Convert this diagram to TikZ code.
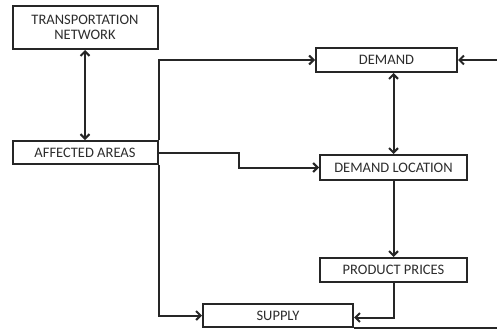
\documentclass[tikz,border=0pt]{standalone}
\usepackage{fontspec}
\setmainfont{Carlito}
\usepackage{tikz}
\usepackage{xcolor}
\usetikzlibrary{arrows.meta}
\definecolor{ink}{RGB}{38,38,38}
\definecolor{txt}{RGB}{45,45,45}

\begin{document}
\begin{tikzpicture}[x=1pt, y=-1pt, >={Straight Barb[length=4.5pt,width=9pt]},
    box/.style={draw=ink, line width=2pt, fill=white, text=txt, inner sep=0pt,
                align=center, font=\fontsize{14.5}{15}\selectfont},
    link/.style={draw=ink, line width=2pt}]
    \useasboundingbox (0,0) rectangle (497,329);
    \clip (0,0) rectangle (497,329);

    % Boxes
    \node[box, minimum width=145pt, minimum height=43pt] (trans) at (85,27.5) {TRANSPORTATION\\NETWORK};
    \node[box, minimum width=145pt, minimum height=23pt] (areas) at (85,152.5) {AFFECTED AREAS};
    \node[box, minimum width=141pt, minimum height=24pt] (demand) at (386.5,60) {DEMAND};
    \node[box, minimum width=147pt, minimum height=25pt] (dloc) at (393.5,167.5) {DEMAND LOCATION};
    \node[box, minimum width=147pt, minimum height=24pt] (prices) at (393.5,270) {PRODUCT PRICES};
    \node[box, minimum width=150pt, minimum height=23pt] (supply) at (278,315.5) {SUPPLY};

    % Links from the affected areas
    \draw[link, <->] (trans.south) -- (areas.north);
    \draw[link, ->] (areas.north east) |- (demand.west);
    \draw[link, ->] (areas.south east) |- (supply.west);
    \draw[link, ->] (areas.east) -- ++(80,0) |- (dloc.west);

    % Demand chain
    \draw[link, <->] (dloc.north) -- (dloc.north |- demand.south);
    \draw[link, ->] (dloc.south) -- (prices.north);
    \draw[link, ->] (prices.south) |- ([yshift=-2pt]supply.east);

    % Feedback from supply to demand
    \coordinate (rim) at (505,60);
    \draw[link, ->] (supply.south east) -| (rim) -- (demand.east);
\end{tikzpicture}
\end{document}
